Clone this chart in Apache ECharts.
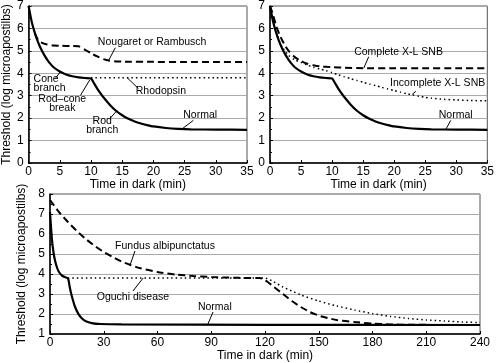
<!DOCTYPE html>
<html><head><meta charset="utf-8">
<script src="https://cdn.jsdelivr.net/npm/echarts@6/dist/echarts.min.js"></script>
<style>html,body{margin:0;padding:0;background:#fff}#c{width:497px;height:363px}</style>
</head><body><div id="c"></div>
<script>
// ---- data ----
const topTicksX = [0, 5, 10, 15, 20, 25, 30, 35];
const bottomTicksX = [0, 30, 60, 90, 120, 150, 180, 210, 240];

const normalTop = [[0,7.0],[0.5,6.3],[1,5.8],[1.5,5.4],[2,5.08],[2.5,4.82],[3,4.6],[3.5,4.42],[4,4.27],[5,4.08],[6,3.95],[7,3.87],[8,3.82],[9,3.79],[10,3.77],[10.5,3.55],[11,3.32],[11.5,3.12],[12,2.93],[13,2.6],[14,2.33],[15,2.13],[16,1.97],[17,1.85],[18,1.76],[19,1.69],[20,1.63],[22,1.56],[24,1.52],[26,1.5],[30,1.49],[35,1.48]];
const nougaret = [[1,5.78],[1.5,5.5],[2,5.38],[3,5.28],[4,5.24],[5,5.23],[6,5.22],[7,5.22],[8,5.21],[9,5.06],[10,4.9],[11,4.75],[12,4.63],[13,4.56],[14,4.53],[15,4.52],[20,4.51],[25,4.5],[30,4.5],[35,4.5]];
const rhodopsin = [[10,3.8],[15,3.8],[20,3.8],[25,3.8],[30,3.8],[35,3.8]];

const completeXL = [[0,7.0],[0.5,6.6],[1,6.1],[1.5,5.75],[2,5.45],[2.5,5.2],[3,5.0],[4,4.72],[5,4.55],[6,4.43],[7,4.36],[8,4.31],[10,4.27],[12,4.25],[15,4.23],[20,4.22],[25,4.22],[30,4.22],[35,4.22]];
const incompleteXL = [[0,7.0],[0.5,6.4],[1,5.85],[1.5,5.45],[2,5.15],[3,4.8],[4,4.6],[5,4.48],[6,4.37],[7,4.27],[8,4.19],[9,4.12],[10,4.03],[11,3.93],[12,3.84],[13,3.76],[14,3.68],[15,3.6],[16,3.52],[17,3.45],[18,3.37],[19,3.3],[20,3.23],[21,3.16],[22,3.09],[23,3.03],[24,2.98],[25,2.93],[26,2.89],[28,2.84],[30,2.81],[32,2.79],[35,2.77]];

const normalBottom = [[0,7.1],[1,5.8],[2,5.05],[3,4.6],[4,4.3],[5,4.1],[7,3.9],[10,3.78],[11,3.35],[12,2.95],[14,2.35],[16,1.98],[18,1.76],[20,1.64],[24,1.53],[28,1.5],[40,1.48],[120,1.46],[240,1.45]];
const fundus = [[0,7.7],[5,7.1],[10,6.6],[15,6.15],[20,5.75],[25,5.4],[30,5.1],[35,4.85],[40,4.62],[45,4.45],[50,4.3],[60,4.1],[70,3.97],[80,3.9],[90,3.85],[100,3.82],[110,3.8],[117,3.8],[120,3.7],[125,3.35],[130,3.0],[135,2.65],[140,2.35],[145,2.1],[150,1.92],[155,1.8],[160,1.7],[170,1.6],[180,1.52],[190,1.48],[200,1.46],[240,1.45]];
const oguchi = [[10,3.8],[60,3.8],[120,3.8],[125,3.6],[130,3.35],[135,3.15],[140,2.95],[150,2.65],[160,2.4],[170,2.2],[180,2.02],[190,1.88],[200,1.78],[210,1.7],[220,1.65],[230,1.6],[240,1.57]];

// annotation texts (positions in data coordinates)
const notes = [
  {g:0, text:'Nougaret or Rambusch', at:[19.8,5.4], from:[13.9,5.14], to:[12.8,4.56]},
  {g:0, text:'Cone\nbranch', at:[3.0,3.54], from:[4.3,3.77], to:[5.1,4.08], align:'left', ax:0.8},
  {g:0, text:'Rhodopsin', at:[21.2,3.19], from:[17.6,3.32], to:[15.8,3.8]},
  {g:0, text:'Rod\u2013cone\nbreak', at:[5.4,2.66], from:[8.3,3.01], to:[9.8,3.7]},
  {g:0, text:'Rod\nbranch', at:[11.8,1.68], from:[13.1,2.0], to:[14.2,2.35]},
  {g:0, text:'Normal', at:[27.5,2.13], from:[26.4,1.9], to:[24.6,1.52]},
  {g:1, text:'Complete X-L SNB', at:[20.7,4.96], from:[15.9,4.74], to:[15.1,4.23]},
  {g:1, text:'Incomplete X-L SNB', at:[27.0,3.54], from:[23.5,3.2], to:[22.9,3.06]},
  {g:1, text:'Normal', at:[29.9,2.13], from:[29.1,1.9], to:[28.3,1.49]},
  {g:2, text:'Fundus albipunctatus', at:[64.2,5.4], from:[47.4,5.15], to:[44.6,4.42]},
  {g:2, text:'Oguchi disease', at:[46.3,2.85], from:[46.3,3.15], to:[52,3.8]},
  {g:2, text:'Normal', at:[92,2.35], from:[91,2.1], to:[88,1.47]}
];

// ---- chart ----
const FONT = '"Liberation Sans", Arial, Helvetica, sans-serif';
const NOTEFONT = '"Liberation Sans Narrow", "Arial Narrow", "Liberation Sans", sans-serif';
const chart = echarts.init(document.getElementById('c'), null, {renderer:'canvas'});

function xAx(gi, max, interval, gap) {
  return {
    type:'value', gridIndex:gi, min:0, max:max, interval:interval,
    name:'Time in dark (min)', nameLocation:'middle', nameGap:gap,
    nameTextStyle:{fontFamily:FONT, fontSize:12, color:'#000'},
    axisLine:{show:true, onZero:false, lineStyle:{color:'#000', width:1.5}},
    axisTick:{show:true, inside:true, length:3, lineStyle:{color:'#000'}},
    axisLabel:{fontFamily:FONT, fontSize:12, color:'#000', margin:3},
    splitLine:{show:false}
  };
}
function yAx(gi, min, max, withName, gap) {
  return {
    type:'value', gridIndex:gi, min:min, max:max, interval:1,
    name: withName ? 'Threshold (log microapostilbs)' : '',
    nameLocation:'middle', nameGap:gap, nameRotate:90,
    nameTextStyle:{fontFamily:FONT, fontSize:12, color:'#000'},
    axisLine:{show:true, onZero:false, lineStyle:{color:'#000', width:1.5}},
    axisTick:{show:true, inside:true, length:3, lineStyle:{color:'#000'}},
    minorTick:{show:true, splitNumber:2, length:2, lineStyle:{color:'#000'}},
    axisLabel:{fontFamily:FONT, fontSize:12, color:'#000', margin:5},
    splitLine:{show:true, lineStyle:{color:'#aaa', width:1}}
  };
}
function ser(xi, data, kind) {
  const ls = {color:'#000'};
  if (kind === 'solid') { ls.width = 2.2; ls.type = 'solid'; }
  else if (kind === 'dashed') { ls.width = 2; ls.type = [7,4]; }
  else { ls.width = 1.5; ls.type = [1.5,3]; }
  return {type:'line', xAxisIndex:xi, yAxisIndex:xi, data:data, showSymbol:false, symbol:'none',
          smooth:0.2, lineStyle:ls, animation:false, silent:true, z: kind==='solid'?3:2};
}

chart.setOption({
  animation:false,
  grid:[
    {left:28, right:250, top:5, bottom:200, show:true, borderColor:'#555', borderWidth:1},
    {left:270, right:8, top:5, bottom:200, show:true, borderColor:'#555', borderWidth:1},
    {left:50, right:17, top:194, bottom:29, show:true, borderColor:'#555', borderWidth:1}
  ],
  xAxis:[xAx(0,35,5,14), xAx(1,35,5,14), xAx(2,240,30,15)],
  yAxis:[yAx(0,0,7,true,13), yAx(1,0,7,false,13), yAx(2,1,8,true,17)],
  series:[
    ser(0, normalTop, 'solid'), ser(0, nougaret, 'dashed'), ser(0, rhodopsin, 'dotted'),
    ser(1, normalTop, 'solid'), ser(1, completeXL, 'dashed'), ser(1, incompleteXL, 'dotted'),
    ser(2, normalBottom, 'solid'), ser(2, fundus, 'dashed'), ser(2, oguchi, 'dotted')
  ]
});

const gfx = [];
notes.forEach(n => {
  const p = chart.convertToPixel({gridIndex:n.g}, n.at);
  const a = chart.convertToPixel({gridIndex:n.g}, n.from);
  const b = chart.convertToPixel({gridIndex:n.g}, n.to);
  let x = p[0];
  if (n.align === 'left') x = chart.convertToPixel({gridIndex:n.g}, [n.ax, n.at[1]])[0];
  gfx.push({type:'text', z:10, style:{text:n.text, x:x, y:p[1], textAlign:n.align||'center',
    textVerticalAlign:'middle', font:'10.5px ' + NOTEFONT, fill:'#000', lineHeight:9}});
  gfx.push({type:'line', z:10, shape:{x1:a[0], y1:a[1], x2:b[0], y2:b[1]},
    style:{stroke:'#000', lineWidth:1}});
});
chart.setOption({graphic:gfx});
</script></body></html>
